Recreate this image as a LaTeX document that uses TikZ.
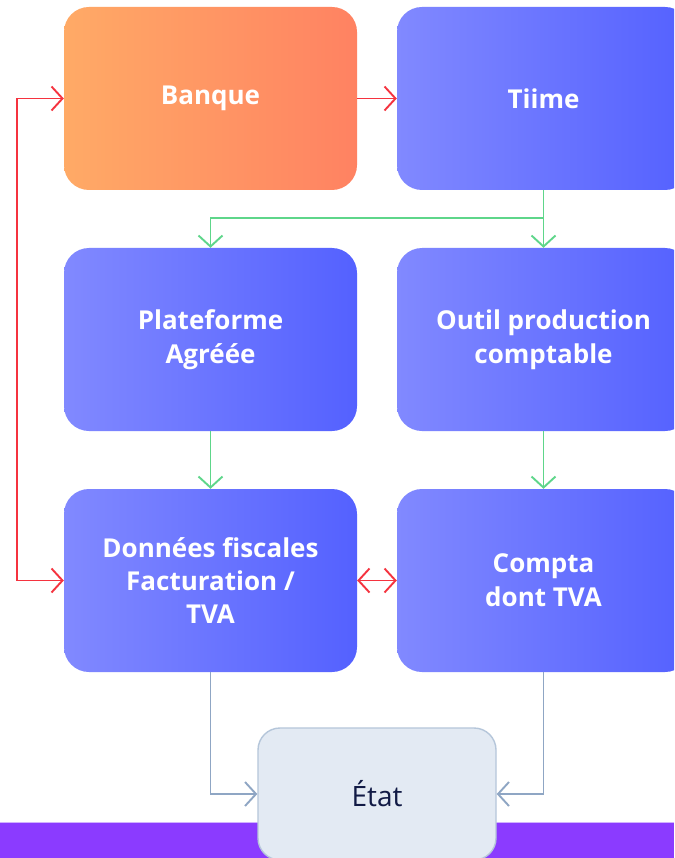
\documentclass[tikz,border=0pt]{standalone}
\usepackage{fontspec}
\setmainfont{Open Sans}[Ligatures=NoCommon]
\usetikzlibrary{arrows.meta}
\definecolor{bl}{HTML}{8189FF}
\definecolor{br}{HTML}{5461FF}
\definecolor{ol}{HTML}{FFAA66}
\definecolor{or}{HTML}{FF8262}
\definecolor{redc}{HTML}{F5333F}
\definecolor{grc}{HTML}{5ED68A}
\definecolor{gyc}{HTML}{8FA6C4}
\definecolor{etatfill}{HTML}{E3EAF3}
\definecolor{etatdraw}{HTML}{B5C6DA}
\definecolor{navy}{HTML}{111A45}
\definecolor{purp}{HTML}{8B3BFF}
\tikzset{
  box/.style={rounded corners=25pt, minimum width=293pt, minimum height=183pt,
    text=white, align=center, inner sep=0pt,
    font=\fontsize{26}{34}\selectfont\bfseries},
  bluebox/.style={box, left color=bl, right color=br},
  orangebox/.style={box, left color=ol, right color=or},
  redarr/.style={draw=redc, line width=1.9pt},
  grnarr/.style={draw=grc, line width=1.9pt, -{Straight Barb[length=11pt,width=24pt]}},
  gyarr/.style={draw=gyc, line width=1.9pt, -{Straight Barb[length=11pt,width=24pt]}},
}
\begin{document}
\begin{tikzpicture}[x=1pt,y=-1pt]
\useasboundingbox (0,0) rectangle (674,858);
\clip (0,0) rectangle (674,858);
\fill[white] (0,0) rectangle (674,858);
\fill[purp] (0,822) rectangle (674,858);
\draw[purp!40, line width=1pt] (0,822) -- (674,822);
\node[orangebox] (banque) at (210.5,98.5) {Banque};
\node[bluebox] (tiime) at (543.5,98.5) {Tiime};
\node[bluebox] (plat) at (210.5,339.5) {Plateforme\\Agréée};
\node[bluebox] (outil) at (543.5,339.5) {Outil production\\comptable};
\node[bluebox, font=\fontsize{26}{33}\selectfont\bfseries] (donnees) at (210.5,580.5) {Données fiscales\\Facturation /\\TVA};
\node[bluebox] (compta) at (543.5,580.5) {Compta\\dont TVA};
\node[rounded corners=22pt, fill=etatfill, draw=etatdraw, line width=1.4pt,
  minimum width=238pt, minimum height=132pt, text=navy,
  font=\fontsize{28}{30}\selectfont] (etat) at (377,794) {État};
\coordinate (lft) at (17,98.5);
\draw[redarr, {Straight Barb[length=11pt,width=24pt]}-{Straight Barb[length=11pt,width=24pt]}]
  (banque.west) -- (lft) |- (donnees.west);
\draw[redarr, -{Straight Barb[length=11pt,width=24pt]}] (banque.east) -- (tiime.west);
\draw[redarr, {Straight Barb[length=11pt,width=24pt]}-{Straight Barb[length=11pt,width=24pt]}]
  (donnees.east) -- (compta.west);
\coordinate (gj) at (543.5,218);
\draw[grnarr] (tiime.south) -- (outil.north);
\draw[grnarr] (tiime.south) -- (gj) -| (plat.north);
\draw[grnarr] (plat.south) -- (donnees.north);
\draw[grnarr] (outil.south) -- (compta.north);
\draw[gyarr] (donnees.south) |- (etat.west);
\draw[gyarr] (compta.south) |- (etat.east);
\end{tikzpicture}
\end{document}
